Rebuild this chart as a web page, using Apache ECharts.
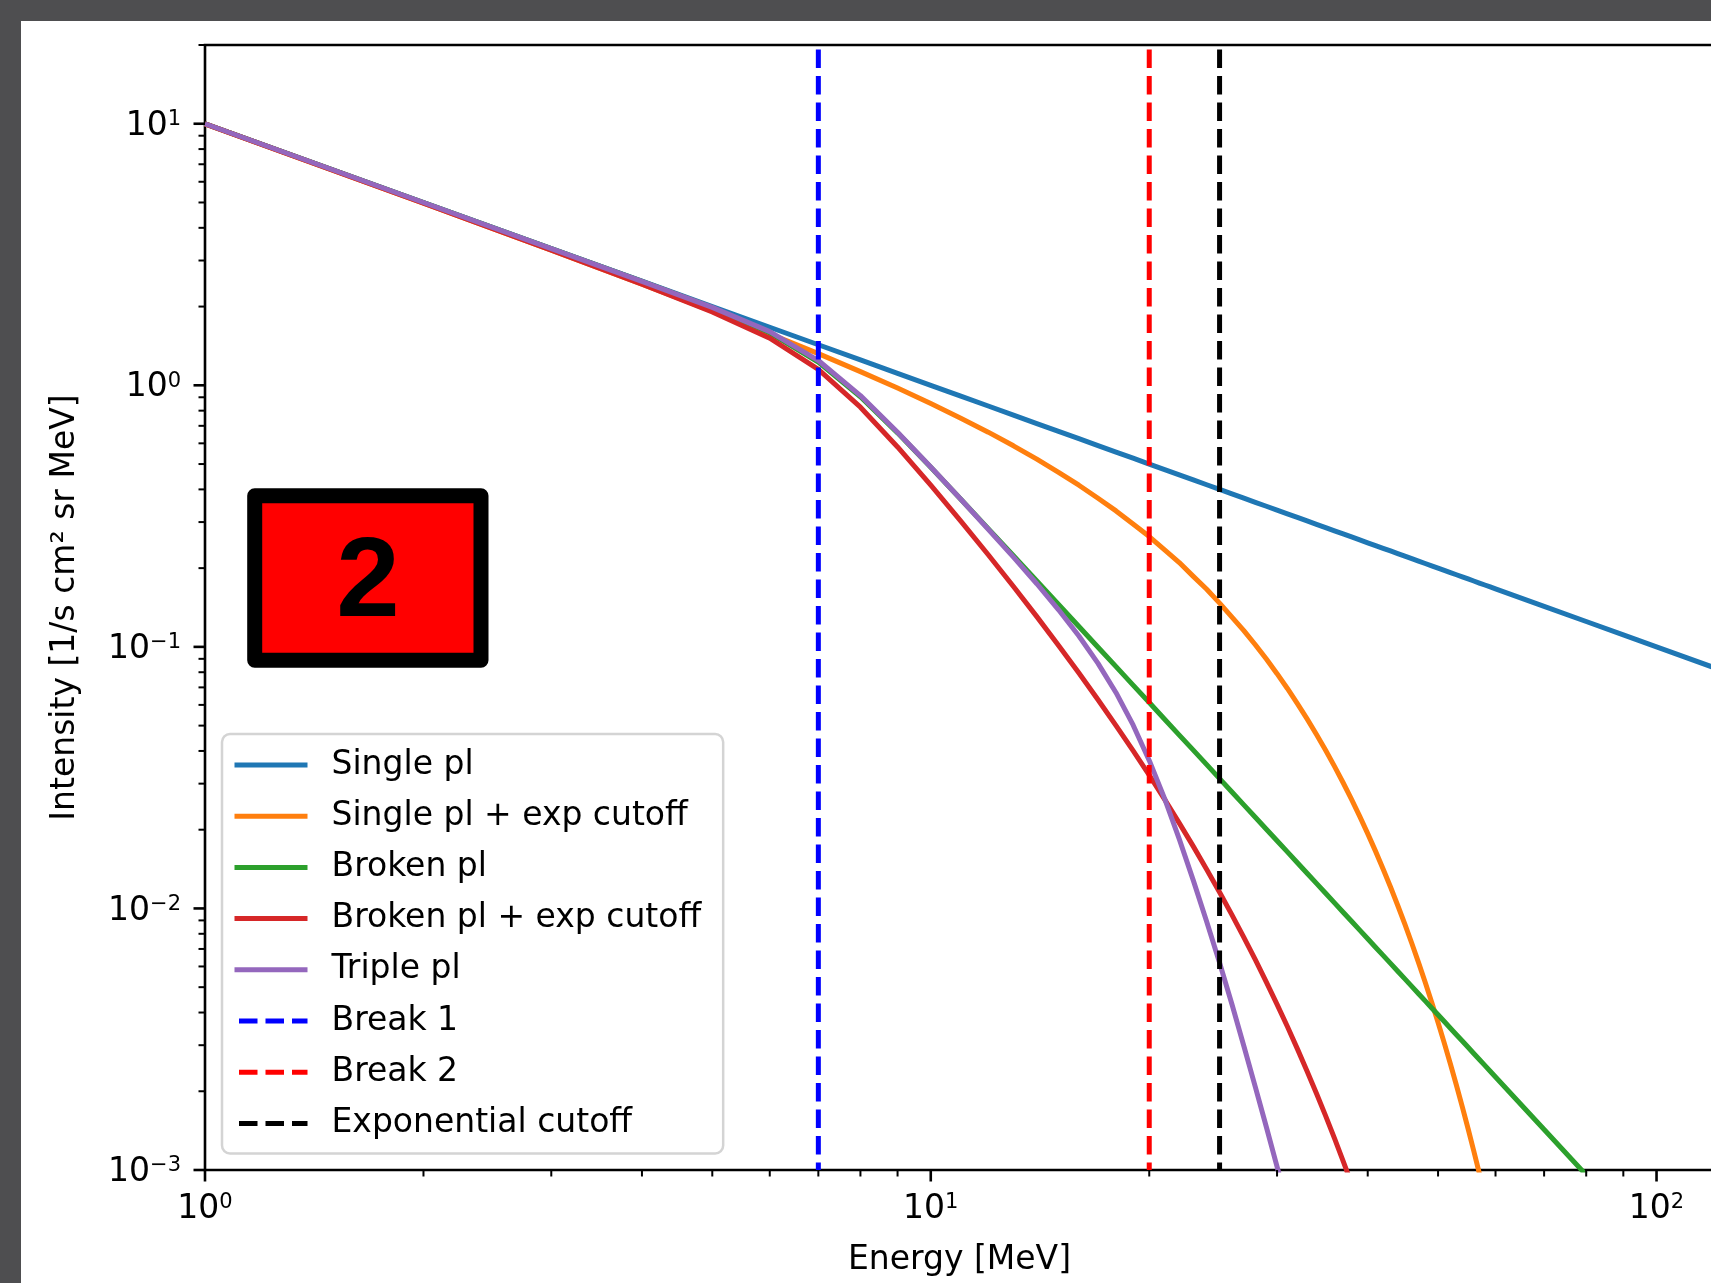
<!DOCTYPE html>
<html>
<head>
<meta charset="utf-8">
<script src="https://cdn.jsdelivr.net/npm/echarts@6/dist/echarts.min.js"></script>
<style>
html,body{margin:0;padding:0;background:#fff;}
#chart{width:1711px;height:1283px;}
</style>
</head>
<body>
<div id="chart"></div>
<script>
// ---- data ----
const energy = [1,2,3,4,5,6,7,8,9,10,11,12,13,14,15,16,17,18,19,20,
                21,22,23,24,25,26,27,28,29,30,31,32,33,34,35,36,37,38,39,40,
                41,42,43,44,45,46,47,48,49,50,51,52,53,54,55,56,57,58,59,60,
                70,80,90,100,120];

const singlePl = [10,5,3.333,2.5,2,1.667,1.429,1.25,1.111,1,0.9091,0.8333,0.7692,0.7143,0.6667,0.625,0.5882,0.5556,0.5263,0.5,
                  0.4762,0.4545,0.4348,0.4167,0.4,0.3846,0.3704,0.3571,0.3448,0.3333,0.3226,0.3125,0.3030,0.2941,0.2857,0.2778,0.2703,0.2632,0.2564,0.25,
                  0.2439,0.2381,0.2326,0.2273,0.2222,0.2174,0.2128,0.2083,0.2041,0.2,0.1961,0.1923,0.1887,0.1852,0.1818,0.1786,0.1754,0.1724,0.1695,0.1667,
                  0.1429,0.125,0.1111,0.1,0.08333];

const singlePlCutoff = [9.984,4.968,3.286,2.437,1.922,1.573,1.321,1.128,0.976,0.852,0.749,0.662,0.587,0.522,0.465,0.415,0.370,0.331,0.295,0.264,
                        0.235,0.210,0.186,0.166,0.147,0.130,0.1154,0.1019,0.0898,0.0790,0.06933,0.06071,0.05306,0.04626,0.04025,0.03493,0.03024,0.02611,0.02250,0.01932,
                        0.01656,0.01416,0.01207,0.01026,0.008703,0.007361,0.006209,0.005221,0.004380,0.003663,0.003056,0.002541,0.002108,0.001743,0.001438,0.001182,0.000970,0.000793];

const brokenPl = [10,5,3.333,2.497,1.980,1.588,1.2265,0.9039,0.658,0.4859,0.3668,0.2831,0.2229,0.1785,0.1452,0.1196,0.0997,0.0840,0.0714,0.06125,
                  0.0529,0.0460,0.0403,0.03545,0.03136,0.02788,0.02489,0.02232,0.02009,0.01815,0.016448,0.014954,0.013635,0.012467,0.011429,0.010502,0.009674,0.008930,0.008260,0.007656,
                  0.007110,0.006614,0.006163,0.005752,0.005377,0.005034,0.004720,0.004431,0.004165,0.003920,0.003694,0.003485,0.003291,0.003112,0.002945,0.002790,0.002646,0.002511,0.002386,0.002269,
                  0.001429,0.000957];

const brokenPlCutoff = [9.984,4.968,3.285,2.435,1.908,1.514,1.150,0.8245,0.5813,0.4153,0.3027,0.2250,0.1702,0.1305,0.1013,0.0794,0.0628,0.0500,0.0401,0.0323,
                        0.0261,0.0212,0.01727,0.0141,0.01154,0.00945,0.00775,0.00637,0.00523,0.0043,0.003535,0.002905,0.002387,0.001961,0.001610,0.001321,0.001082,0.000886];

const triplePl = [10,5,3.333,2.498,1.986,1.604,1.2437,0.9134,0.6616,0.4868,0.3665,0.2817,0.2203,0.1743,0.1386,0.1100,0.0865,0.0668,0.0503,0.0368,
                  0.0263,0.0184,0.0128,0.0089,0.0062,0.0043,0.00298,0.00208,0.00146,0.00103,0.00074];

const break1 = 7;
const break2 = 20;
const expCutoff = 25;

const xMin = 1, xMax = 120;
const yMin = 0.001, yMax = 20;

const xMajorTicks = [1, 10, 100];
const xMinorTicks = [2,3,4,5,6,7,8,9,20,30,40,50,60,70,80,90];
const yMajorTicks = [0.001, 0.01, 0.1, 1, 10];
const yMinorTicks = [0.002,0.003,0.004,0.005,0.006,0.007,0.008,0.009,
                     0.02,0.03,0.04,0.05,0.06,0.07,0.08,0.09,
                     0.2,0.3,0.4,0.5,0.6,0.7,0.8,0.9,
                     2,3,4,5,6,7,8,9,20];

const seriesNames = ['Single pl','Single pl + exp cutoff','Broken pl','Broken pl + exp cutoff','Triple pl','Break 1','Break 2','Exponential cutoff'];
const seriesColors = ['#1f77b4','#ff7f0e','#2ca02c','#d62728','#9467bd','#0000ff','#ff0000','#000000'];

// ---- chart ----
const FONT = 'DejaVu Sans';
const chart = echarts.init(document.getElementById('chart'), null, {renderer: 'canvas', width: 1711, height: 1283});

function curve(idx, values) {
  return {
    name: seriesNames[idx], type: 'line',
    data: values.map((v, i) => [energy[i], v]),
    showSymbol: false, symbol: 'none', clip: true, z: 2,
    lineStyle: {color: seriesColors[idx], width: 5, cap: 'butt', join: 'round'},
    itemStyle: {color: seriesColors[idx]},
    emphasis: {disabled: true}
  };
}
function vline(idx, e) {
  return {
    name: seriesNames[idx], type: 'line',
    data: [[e, yMax], [e, yMin]],
    showSymbol: false, symbol: 'none', clip: true, z: 3,
    lineStyle: {color: seriesColors[idx], width: 5, type: [18.5, 8], dashOffset: 22, cap: 'butt'},
    itemStyle: {color: seriesColors[idx]},
    emphasis: {disabled: true}
  };
}
function ticks(values, dir, len, width) {
  return {
    type: 'custom', coordinateSystem: 'cartesian2d', silent: true, clip: false, z: 5,
    data: values.map(v => dir === 'x' ? [v, yMin] : [xMin, v]),
    renderItem: function (params, api) {
      const p = api.coord([api.value(0), api.value(1)]);
      const shape = dir === 'x'
        ? {x1: p[0], y1: p[1], x2: p[0], y2: p[1] + len}
        : {x1: p[0], y1: p[1], x2: p[0] - len, y2: p[1]};
      return {type: 'line', shape: shape, style: {stroke: '#000', lineWidth: width}};
    }
  };
}
function powLabel(v) {
  const e = Math.log10(v);
  const r = Math.round(e);
  if (Math.abs(e - r) > 1e-6) return '';
  const s = r < 0 ? '\u2212' + (-r) : String(r);
  return '{b|10}{s|' + s + '}';
}
const labelRich = {
  b: {fontSize: 33, lineHeight: 34, fontFamily: FONT, color: '#000'},
  s: {fontSize: 21, lineHeight: 21, verticalAlign: 'top', fontFamily: FONT, color: '#000'}
};

const option = {
  animation: false,
  backgroundColor: '#ffffff',
  textStyle: {fontFamily: FONT},
  grid: {
    left: 205, top: 45, width: 1509, height: 1125,
    show: true, borderColor: '#000', borderWidth: 2.6, backgroundColor: 'transparent',
    containLabel: false, outerBoundsMode: 'none'
  },
  xAxis: {
    type: 'log', logBase: 10, min: xMin, max: xMax,
    name: 'Energy [MeV]', nameLocation: 'middle', nameGap: 74,
    nameTextStyle: {fontSize: 33, fontFamily: FONT, color: '#000'},
    axisLine: {show: false}, axisTick: {show: false}, splitLine: {show: false}, minorTick: {show: false},
    axisLabel: {formatter: powLabel, rich: labelRich, margin: 22, color: '#000'}
  },
  yAxis: {
    type: 'log', logBase: 10, min: yMin, max: yMax,
    name: 'Intensity [1/s cm² sr MeV]', nameLocation: 'middle', nameGap: 123, nameRotate: 90,
    nameTextStyle: {fontSize: 33, fontFamily: FONT, color: '#000'},
    axisLine: {show: false}, axisTick: {show: false}, splitLine: {show: false}, minorTick: {show: false},
    axisLabel: {formatter: powLabel, rich: labelRich, margin: 24, padding: [5, 0, 0, 0], color: '#000'}
  },
  legend: {
    orient: 'vertical', left: 222, top: 734,
    padding: [14.5, 22, 13.5, 10],
    itemWidth: 73, itemHeight: 4, itemGap: 18.2,
    backgroundColor: 'rgba(255,255,255,0.8)', borderColor: '#d4d4d4', borderWidth: 2.5, borderRadius: 8,
    textStyle: {fontSize: 33, lineHeight: 33, fontFamily: FONT, color: '#000', padding: [0, 0, 0, 19]},
    itemStyle: {opacity: 0},
    lineStyle: {width: 5},
    selectedMode: false,
    data: seriesNames
  },
  graphic: [
    {type: 'rect', shape: {x: 0, y: 0, width: 1711, height: 21}, style: {fill: '#4e4e50'}, z: 100},
    {type: 'rect', shape: {x: 0, y: 0, width: 21, height: 1283}, style: {fill: '#4e4e50'}, z: 100},
    {type: 'rect', shape: {x: 254.7, y: 495.8, width: 226.3, height: 164.5},
     style: {fill: '#ff0000', stroke: '#000000', lineWidth: 15, lineJoin: 'round'}, z: 100},
    {type: 'text', x: 368, y: 585, z: 101,
     style: {text: '2', fontSize: 114, fontWeight: 'bold', fontFamily: 'Liberation Sans', fill: '#000',
             align: 'center', verticalAlign: 'middle', textAlign: 'center', textVerticalAlign: 'middle'}}
  ],
  series: [
    curve(0, singlePl),
    curve(1, singlePlCutoff),
    curve(2, brokenPl),
    curve(3, brokenPlCutoff),
    curve(4, triplePl),
    vline(5, break1),
    vline(6, break2),
    vline(7, expCutoff),
    ticks(xMajorTicks, 'x', 11.5, 2.6),
    ticks(xMinorTicks, 'x', 6.5, 2),
    ticks(yMajorTicks, 'y', 11.5, 2.6),
    ticks(yMinorTicks, 'y', 6.5, 2)
  ]
};
chart.setOption(option);
</script>
</body>
</html>
